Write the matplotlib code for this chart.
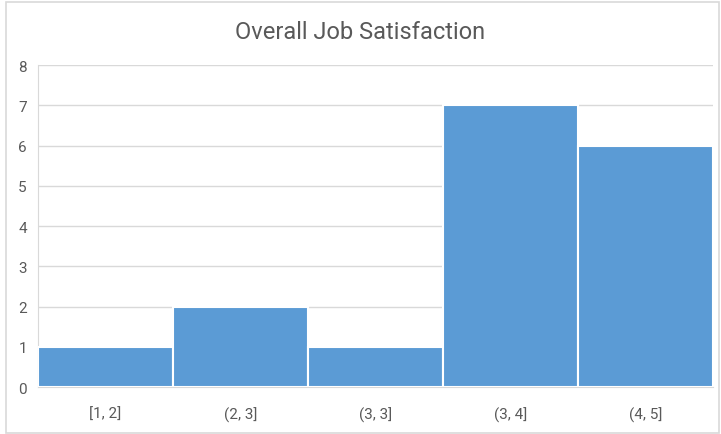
import matplotlib.pyplot as plt
from matplotlib.patches import Rectangle

# histogram bins and counts
bins = ['[1, 2]', '(2, 3]', '(3, 3]', '(3, 4]', '(4, 5]']
counts = [1, 2, 1, 7, 6]
yticks = [0, 1, 2, 3, 4, 5, 6, 7, 8]

plt.rcParams['font.family'] = ['Liberation Sans Narrow', 'Roboto', 'DejaVu Sans']

fig = plt.figure(figsize=(7.21, 4.35), dpi=100)
ax = fig.add_axes([0.0527, 0.108, 0.936, 0.740])

# outer chart frame
fig.patches.append(Rectangle((6 / 721, 1 / 435), 713 / 721, 431 / 435,
                             transform=fig.transFigure, fill=False,
                             edgecolor='#d9d9d9', linewidth=1.2))

x = list(range(len(bins)))
ax.bar(x, counts, width=1.0, color='#5b9bd5', edgecolor='white',
       linewidth=1.5, zorder=3)

ax.set_xlim(-0.5, len(bins) - 0.5)
ax.set_ylim(0, 8)
ax.set_yticks(yticks)
ax.set_xticks(x)
ax.set_xticklabels(bins)
ax.grid(axis='y', color='#d9d9d9', linewidth=1, zorder=0)
ax.tick_params(length=0, colors='#595959', labelsize=11, pad=8)
ax.tick_params(axis='x', pad=14)
for side in ['top', 'right']:
    ax.spines[side].set_visible(False)
ax.spines['left'].set_color('#d9d9d9')
ax.spines['bottom'].set_color('#d9d9d9')

fig.text(0.5, 0.926, 'Overall Job Satisfaction', ha='center', va='center',
         fontsize=17, color='#595959')

fig.savefig('out.png', dpi=100)
